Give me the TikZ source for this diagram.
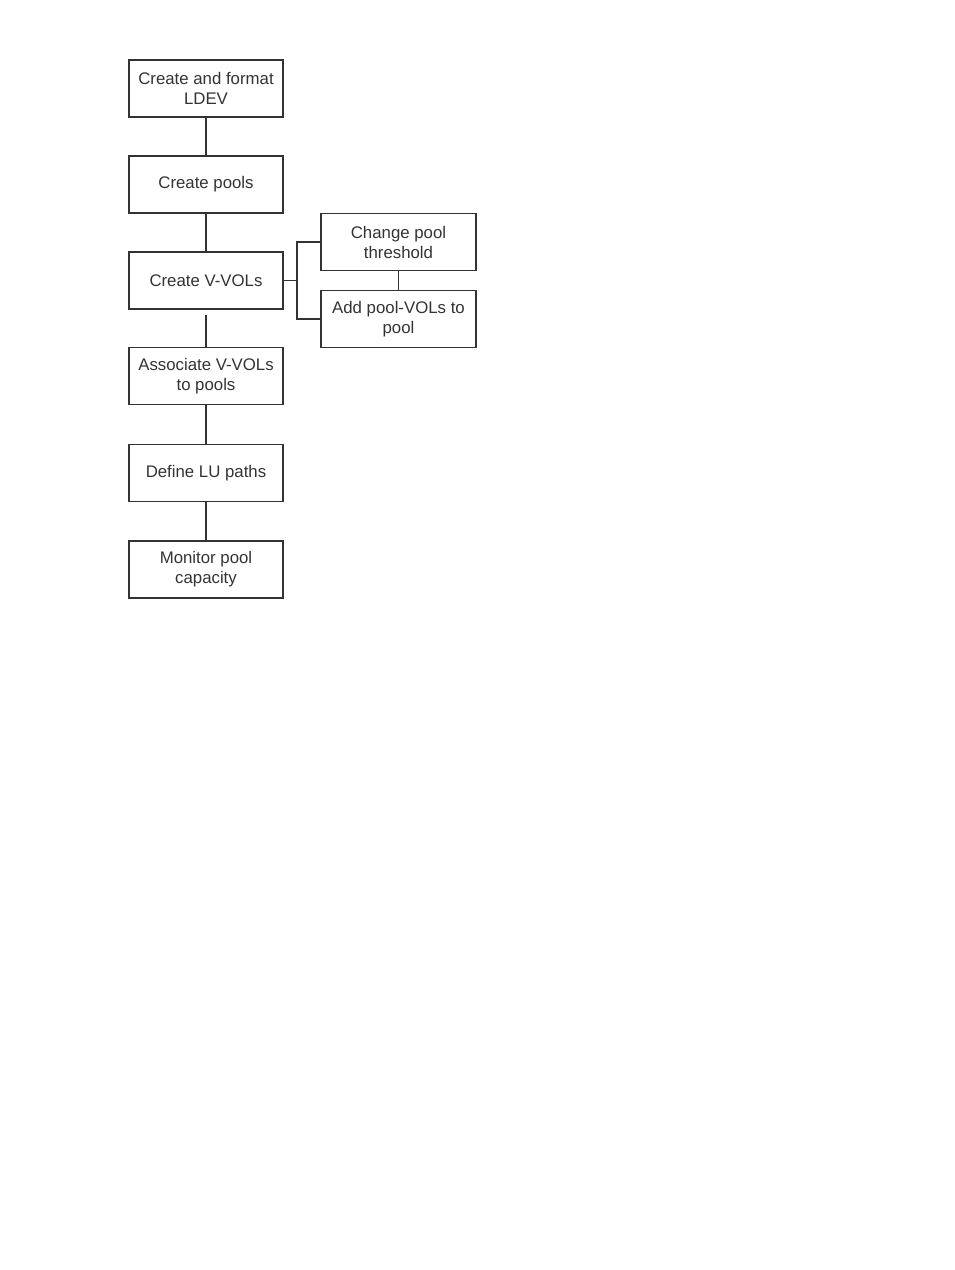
\documentclass[tikz,border=0pt]{standalone}
\usepackage{fontspec}
\setmainfont{Liberation Sans}
\begin{document}
\begin{tikzpicture}[x=1pt,y=-1pt,
  box/.style={draw=black!80,line width=1.5pt,minimum width=154pt,minimum height=57pt,
    inner sep=0pt,align=center,text=black!80,font=\fontsize{16.8}{20}\selectfont},
  conn/.style={draw=black!80,line width=1.5pt}]
\useasboundingbox (0,0) rectangle (954,1270);
\node[box] (b1) at (206,88.5) {Create and format\\LDEV};
\node[box] (b2) at (206,184.5) {Create pools};
\node[box] (b3) at (206,280.5) {Create V-VOLs};
\node[box] (b4) at (206,376) {Associate V-VOLs\\to pools};
\node[box] (b5) at (206,473) {Define LU paths};
\node[box] (b6) at (206,569.5) {Monitor pool\\capacity};
\node[box,minimum width=155pt] (r1) at (398.5,242) {Change pool\\threshold};
\node[box,minimum width=155pt] (r2) at (398.5,319) {Add pool-VOLs to\\pool};
\coordinate (j) at (297,280.5);
\coordinate (g) at (206,315);
\draw[conn] (b1) -- (b2);
\draw[conn] (b2) -- (b3);
\draw[conn] (g) -- (b4.north);
\draw[conn] (b4) -- (b5);
\draw[conn] (b5) -- (b6);
\draw[conn] (r1) -- (r2);
\draw[conn] (b3.east) -- (j);
\draw[conn] (r1.west) -| (j) |- (r2.west);
\end{tikzpicture}
\end{document}
